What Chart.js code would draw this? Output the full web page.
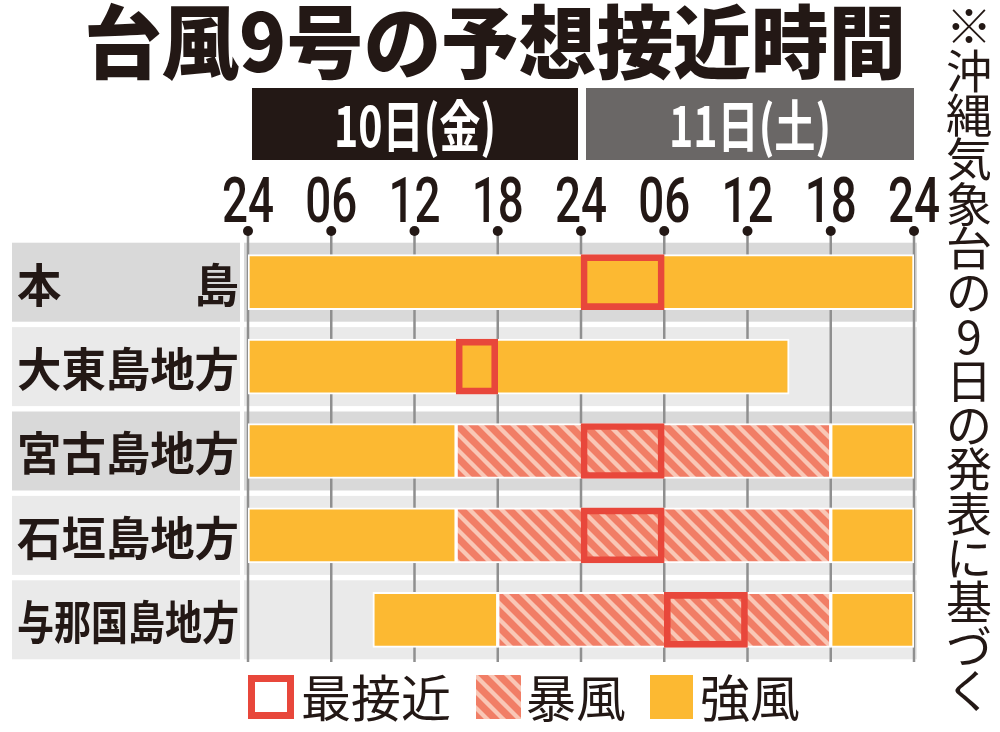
<!DOCTYPE html>
<html>
<head>
<meta charset="utf-8">
<script src="https://cdn.jsdelivr.net/npm/chart.js@4.4.1/dist/chart.umd.min.js"></script>
<style>
  html, body { margin: 0; padding: 0; background: #fff; }
  #wrap { width: 1000px; height: 732px; }
</style>
</head>
<body>
<div id="wrap"><canvas id="chart" width="1000" height="732"></canvas></div>
<script>
// data
const categories = ['本　　　島', '大東島地方', '宮古島地方', '石垣島地方', '与那国島地方'];
const tickHours = [0, 6, 12, 18, 24, 30, 36, 42, 48];
const tickLabels = ['24', '06', '12', '18', '24', '06', '12', '18', '24'];
const dayLabels = ['10日(金)', '11日(土)'];
const dayRanges = [[0, 24], [24, 48]];
const strongFirst = [[0, 48], [0, 39], [0, 15], [0, 15], [9, 18]];
const strongLast = [null, null, [42, 48], [42, 48], [42, 48]];
const storm = [null, null, [15, 42], [15, 42], [18, 42]];
const closest = [[24, 30], [15, 18], [24, 30], [24, 30], [30, 36]];
const title = '台風9号の予想接近時間';
const note = '※沖縄気象台の9日の発表に基づく';

// styles
const YELLOW = '#fcb932';
const RED = '#e8473b';
const INK = '#231815';
const bandColors = ['#d9d9d9', '#eaeaea', '#d9d9d9', '#eaeaea', '#eaeaea'];
const dayColors = ['#231815', '#6a6766'];
const JP = '"Noto Sans CJK JP", "Noto Sans CJK SC", sans-serif';

const canvas = document.getElementById('chart');
const ctx = canvas.getContext('2d');

function hatchPattern() {
    const c = document.createElement('canvas');
    c.width = 16; c.height = 16;
    const g = c.getContext('2d');
    g.fillStyle = '#f9c7b6';
    g.fillRect(0, 0, 16, 16);
    g.strokeStyle = '#f17e66';
    g.lineWidth = 7;
    for (const o of [-16, 0, 16]) {
        g.beginPath();
        g.moveTo(o - 4, -4);
        g.lineTo(o + 20, 20);
        g.stroke();
    }
    return ctx.createPattern(c, 'repeat');
}
const HATCH = hatchPattern();

const decor = {
    id: 'decor',
    beforeDatasetsDraw(chart) {
        const c = chart.ctx;
        const xs = chart.scales.x;
        const ys = chart.scales.y;
        const area = chart.chartArea;
        c.save();

        // title
        c.fillStyle = INK;
        c.font = '900 80px ' + JP;
        c.textAlign = 'center';
        c.textBaseline = 'alphabetic';
        c.fillText(title, 495, 72, 822);

        // day headers
        dayRanges.forEach((r, i) => {
            const x0 = xs.getPixelForValue(r[0]) + (i === 0 ? 4 : 5);
            const x1 = xs.getPixelForValue(r[1]) - (i === 0 ? 3 : 0);
            c.fillStyle = dayColors[i];
            c.fillRect(x0, 88, x1 - x0, 72);
            c.fillStyle = '#fff';
            c.font = '700 56px ' + JP;
            c.textBaseline = 'middle';
            c.fillText(dayLabels[i], (x0 + x1) / 2, 126, 162);
        });

        // row bands and labels
        categories.forEach((name, i) => {
            const y = ys.getPixelForValue(i);
            c.fillStyle = bandColors[i];
            c.fillRect(12, y - 39.5, 228, 79);
            c.fillRect(244, y - 39.5, 673, 79);
            c.fillStyle = INK;
            c.font = '700 46px ' + JP;
            c.textAlign = 'left';
            c.textBaseline = 'middle';
            c.fillText(name, 17, y + 2, 222);
        });

        // grid lines, dots, tick labels
        tickHours.forEach((h, i) => {
            const x = xs.getPixelForValue(h);
            c.strokeStyle = '#8f8f8f';
            c.lineWidth = 2.5;
            c.beginPath();
            c.moveTo(x, 234);
            c.lineTo(x, area.bottom);
            c.stroke();
            c.fillStyle = INK;
            c.beginPath();
            c.arc(x, 231, 5, 0, Math.PI * 2);
            c.fill();
            c.font = '500 63px Roboto';
            c.textAlign = 'center';
            c.textBaseline = 'alphabetic';
            c.fillText(tickLabels[i], x, 222, 52);
        });

        // vertical note
        c.fillStyle = INK;
        c.font = '400 46px ' + JP;
        c.textAlign = 'center';
        c.textBaseline = 'middle';
        Array.from(note).forEach((ch, i) => {
            c.fillText(ch, 969, 26 + i * 44.3);
        });
        c.restore();
    },
    afterDraw(chart) {
        const c = chart.ctx;
        c.save();
        // legend
        c.strokeStyle = RED;
        c.lineWidth = 7;
        c.strokeRect(251.5, 678.5, 39, 37);
        c.fillStyle = HATCH;
        c.fillRect(476, 675, 45, 44);
        c.fillStyle = YELLOW;
        c.fillRect(650, 675, 43, 44);
        c.fillStyle = INK;
        c.font = '400 50px ' + JP;
        c.textAlign = 'left';
        c.textBaseline = 'middle';
        c.fillText('最接近', 301, 698);
        c.fillText('暴風', 526, 698);
        c.fillText('強風', 700, 698);
        c.restore();
    }
};

const barBase = {
    grouped: false,
    borderSkipped: false,
    barThickness: 55,
    borderColor: '#fff',
    borderWidth: 2,
    order: 2
};

new Chart(ctx, {
    type: 'bar',
    data: {
        labels: categories,
        datasets: [
            {
                label: '最接近',
                data: closest,
                backgroundColor: 'rgba(0,0,0,0)',
                borderColor: RED,
                borderWidth: 6,
                borderSkipped: false,
                grouped: false,
                barThickness: 55,
                order: 0
            },
            Object.assign({ label: '暴風', data: storm, backgroundColor: HATCH }, barBase, { order: 1 }),
            Object.assign({ label: '強風', data: strongFirst, backgroundColor: YELLOW }, barBase),
            Object.assign({ label: '強風', data: strongLast, backgroundColor: YELLOW }, barBase)
        ]
    },
    options: {
        indexAxis: 'y',
        responsive: false,
        animation: false,
        layout: { padding: { top: 240, bottom: 70, left: 248, right: 86 } },
        scales: {
            x: { type: 'linear', min: 0, max: 48, display: false },
            y: { display: false }
        },
        plugins: {
            legend: { display: false },
            tooltip: { enabled: false }
        }
    },
    plugins: [decor]
});
</script>
</body>
</html>
